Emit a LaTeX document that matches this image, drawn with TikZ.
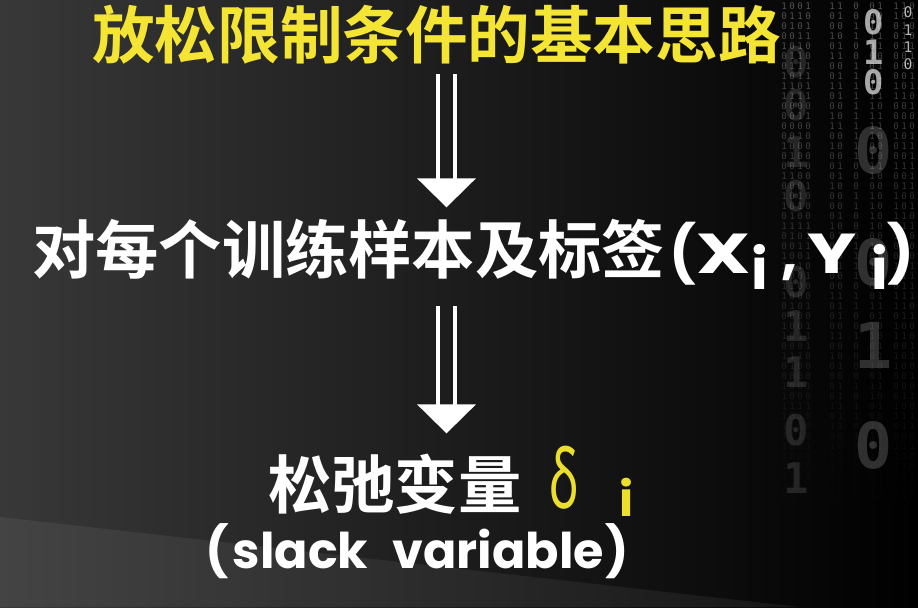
\documentclass[tikz,border=0pt]{standalone}
\usepackage{fontspec}
\newfontfamily\cjk[BoldFont={Noto Sans CJK SC Bold}]{Noto Sans CJK SC}
\newfontfamily\latin{Poppins}
\newfontfamily\wide{Poppins}
\newfontfamily\greek{Noto Sans}
\newfontfamily\bits{DejaVu Sans Mono}
\usetikzlibrary{positioning,calc}

\definecolor{titleyellow}{RGB}{244,229,52}
\definecolor{deltayellow}{RGB}{236,222,44}
\definecolor{bgleft}{RGB}{56,56,56}
\definecolor{bgmid}{RGB}{22,22,22}
\definecolor{bgband}{RGB}{72,72,72}

\newcommand{\lowi}{\raisebox{-0.42cm}{i}}
\newcommand{\cell}[2]{\makebox[#1cm][l]{#2}}

\begin{document}
\begin{tikzpicture}[x=0.025cm,y=-0.025cm]

	\tikzstyle{heading} = [inner sep=0, anchor=base west, text=titleyellow, font=\cjk\bfseries\fontsize{44.5}{44.5}\selectfont]
	\tikzstyle{stage}   = [inner sep=0, anchor=base west, text=white, font=\cjk\bfseries\fontsize{45}{45}\selectfont]
	\tikzstyle{note}    = [inner sep=0, anchor=base west, text=white, font=\wide\bfseries\fontsize{35}{35}\selectfont]
	\tikzstyle{shaft}   = [draw=white, line width=3pt]
	\tikzstyle{tiny bit} = [inner sep=0, font=\bits\fontsize{6.5}{6.5}\selectfont]
	\tikzstyle{big bit}  = [inner sep=0, font=\bits\bfseries\fontsize{30}{30}\selectfont]

	% background
	\useasboundingbox (0,0) rectangle (918,607);
	\shade [left color=bgleft, middle color=bgmid, right color=black] (0,0) rectangle (918,607);
	\shade [left color=bgband, right color=black!90, opacity=0.8] (0,517) -- (800,607) -- (0,607) -- cycle;

	% binary rain on the right
	\pgfmathsetseed{11}
	\foreach \c in {0,...,17} {
		\pgfmathrandominteger{\keep}{0}{9}
		\ifnum\keep>2
		\foreach \r in {0,...,49} {
			\pgfmathrandominteger{\bv}{0}{1}
			\pgfmathsetmacro{\op}{max(0.02,0.3-\r*0.006)}
			\node [tiny bit, text=white, opacity=\op] at (776+8*\c, 6+10*\r) {\bv};
		}
		\fi
	}
	\foreach \d/\y in {0/62, 0/105, 1/152, 0/196, 0/282, 1/326, 1/372, 0/430, 1/478}
		\node [big bit, text=white, opacity=0.12] at (796,\y) {\d};
	\foreach \d/\y in {0/150, 0/262, 1/345, 0/445}
		\node [big bit, text=white, opacity=0.18, scale=1.5] at (874,\y) {\d};
	\foreach \d/\y in {0/22, 1/52, 0/82}
		\node [big bit, text=white, opacity=0.65, scale=0.8] at (874,\y) {\d};
	\foreach \d/\y in {0/12, 1/30, 1/47, 0/64}
		\node [tiny bit, text=white, opacity=0.7, scale=1.6] at (908,\y) {\d};

	\coordinate (axis) at (446.5,0);

	% texts
	\node [heading] (title) at (92,58) {放松限制条件的基本思路};
	\node [stage] (pairs) at (32,273) {对每个训练样本及标签\hspace{0.1cm}{\latin\bfseries\fontsize{40}{40}\selectfont
		\cell{0.675}{(}\cell{1.375}{\scalebox{1.35}[1]{X}}\cell{0.75}{\lowi}\cell{0.65}{,}\cell{1.6}{\scalebox{1.3}[1]{Y}}\cell{0.4}{\lowi})}};
	\node [stage] (slack) at (268,508) {松弛变量\hspace{0.7cm}{\color{deltayellow}\greek\scalebox{0.62}[1]{\fontsize{58}{58}\selectfont δ}\hspace{1.02cm}{\latin\bfseries\fontsize{34}{34}\selectfont\raisebox{-0.22cm}{i}}}};
	\node [note] (name) at (205,568) {(\hspace{0.1cm}slack\hspace{0.6cm}variable\hspace{0.05cm})};

	% double arrows
	\foreach \a/\b/\g/\h in {title/pairs/10/11, pairs/slack/16/12} {
		\coordinate (top) at ($(\a.south -| axis)+(0,\g)$);
		\coordinate (tip) at ($(\b.north -| axis)+(0,-\h)$);
		\draw [shaft] ($(top)+(-8.5,0)$) -- ($(tip)+(-8.5,-26)$);
		\draw [shaft] ($(top)+(8.5,0)$) -- ($(tip)+(8.5,-26)$);
		\fill [white] ($(tip)+(-29.5,-29)$) -- ($(tip)+(29.5,-29)$) -- (tip) -- cycle;
	}

\end{tikzpicture}
\end{document}
